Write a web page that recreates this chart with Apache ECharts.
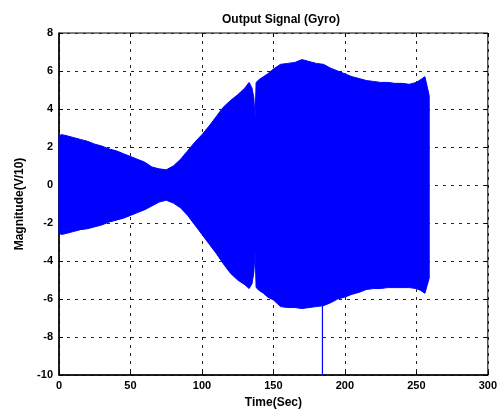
<!DOCTYPE html>
<html>
<head>
<meta charset="utf-8">
<script src="https://cdn.jsdelivr.net/npm/echarts@6/dist/echarts.min.js"></script>
<style>
  html, body { margin: 0; padding: 0; background: #fff; }
  #chartmain { width: 500px; height: 418px; }
</style>
</head>
<body>
<div id="chartmain"></div>
<script>
// envelope of the gyro output
var timeSec = [0, 2, 5, 10, 15, 20, 25, 30, 35, 40, 45, 50, 55, 60, 65, 70, 75, 80, 85, 90,
	95, 100, 105, 110, 115, 120, 125, 130, 133, 135, 136.3, 137.2, 137.9, 140, 143, 146, 150,
	155, 160, 165, 170, 175, 180, 185, 190, 195, 200, 205, 210, 215, 220, 225, 230, 235,
	240, 245, 250, 253, 256, 257.5, 259];
var upperEnv = [2.6, 2.65, 2.6, 2.5, 2.4, 2.3, 2.15, 2.05, 1.9, 1.8, 1.65, 1.5, 1.35, 1.2, 0.95, 0.85,
	0.8, 1.0, 1.35, 1.8, 2.25, 2.65, 3.1, 3.6, 4.1, 4.45, 4.75, 5.1, 5.4, 5.1, 4.6, 3.5, 5.4, 5.55,
	5.7, 5.85, 6.1, 6.35, 6.4, 6.45, 6.6, 6.5, 6.4, 6.35, 6.15, 6.0, 5.85, 5.7, 5.6, 5.5, 5.45,
	5.4, 5.4, 5.35, 5.35, 5.3, 5.4, 5.55, 5.7, 5.2, 4.7];
var lowerEnv = [-2.55, -2.6, -2.55, -2.45, -2.35, -2.3, -2.2, -2.1, -1.95, -1.85, -1.75, -1.6, -1.45,
	-1.3, -1.1, -0.9, -0.8, -0.95, -1.2, -1.6, -2.1, -2.6, -3.1, -3.6, -4.15, -4.65, -5.0, -5.25,
	-5.45, -5.2, -4.6, -3.5, -5.4, -5.55, -5.7, -5.9, -6.05, -6.4, -6.45, -6.45, -6.5, -6.45, -6.4,
	-6.35, -6.2, -6.0, -5.9, -5.75, -5.65, -5.5, -5.45, -5.45, -5.4, -5.4, -5.4, -5.4, -5.45,
	-5.55, -5.7, -5.3, -4.9];
// single glitch reaching the bottom of the axis
var spikeTime = [184.3, 184.3];
var spikeVal = [-6.3, -10];

var xTicks = [0, 50, 100, 150, 200, 250, 300];
var yTicks = [-10, -8, -6, -4, -2, 0, 2, 4, 6, 8];

var envData = [], spikeData = [];
for (var i = 0; i < timeSec.length; i++) {
	envData.push([timeSec[i], upperEnv[i], lowerEnv[i]]);
}
for (var j = 0; j < spikeTime.length; j++) {
	spikeData.push([spikeTime[j], spikeVal[j]]);
}

// whole envelope drawn as one filled polygon (upper edge out, lower edge back)
function renderEnvelope(params, api) {
	if (params.dataIndex !== 0) return;
	var pts = [];
	for (var k = 0; k < envData.length; k++) pts.push(api.coord([envData[k][0], envData[k][1]]));
	for (var m = envData.length - 1; m >= 0; m--) pts.push(api.coord([envData[m][0], envData[m][2]]));
	return {
		type: 'polygon',
		shape: { points: pts },
		style: { fill: '#0000ff', stroke: '#0000ff', lineWidth: 1 }
	};
}

var myChart = echarts.init(document.getElementById('chartmain'));
var fontFam = 'Liberation Sans, Arial';

option = {
	backgroundColor: '#fff',
	animation: false,
	title: {
		text: 'Output Signal (Gyro)',
		left: 276, top: 9, textAlign: 'center',
		textStyle: { color: '#000', fontFamily: fontFam, fontWeight: 'bold', fontSize: 12 }
	},
	grid: { left: 59, right: 7, top: 33, bottom: 43, show: true, borderColor: '#000', borderWidth: 1 },
	xAxis: [{
		type: 'value', min: xTicks[0], max: xTicks[xTicks.length - 1], interval: 50,
		name: 'Time(Sec)', nameLocation: 'middle', nameGap: 22,
		nameTextStyle: { color: '#000', fontFamily: fontFam, fontWeight: 'bold', fontSize: 12 },
		axisLine: { onZero: false, lineStyle: { color: '#000', width: 1.5 } },
		axisTick: { inside: true, length: 4, lineStyle: { color: '#000' } },
		axisLabel: { color: '#000', fontFamily: fontFam, fontWeight: 'bold', fontSize: 11, margin: 5 },
		splitLine: { show: true, lineStyle: { color: '#222', type: [3, 5], width: 1 } }
	}, {
		type: 'value', position: 'top', min: 0, max: 300, interval: 50,
		axisLine: { show: false, onZero: false },
		axisTick: { show: true, inside: true, length: 4, lineStyle: { color: '#000' } },
		axisLabel: { show: false }, splitLine: { show: false }
	}],
	yAxis: [{
		type: 'value', min: yTicks[0], max: yTicks[yTicks.length - 1], interval: 2,
		name: 'Magnitude(V/10)', nameLocation: 'middle', nameGap: 33,
		nameTextStyle: { color: '#000', fontFamily: fontFam, fontWeight: 'bold', fontSize: 12 },
		axisLine: { show: true, onZero: false, lineStyle: { color: '#000', width: 1.5 } },
		axisTick: { show: true, inside: true, length: 4, lineStyle: { color: '#000' } },
		axisLabel: { color: '#000', fontFamily: fontFam, fontWeight: 'bold', fontSize: 11, margin: 6 },
		splitLine: { show: true, lineStyle: { color: '#222', type: [3, 5], width: 1 } }
	}, {
		type: 'value', position: 'right', min: -10, max: 8, interval: 2,
		axisLine: { show: false, onZero: false },
		axisTick: { show: true, inside: true, length: 4, lineStyle: { color: '#000' } },
		axisLabel: { show: false }, splitLine: { show: false }
	}],
	series: [{
		name: 'envelope',
		type: 'custom',
		renderItem: renderEnvelope,
		data: envData,
		encode: { x: 0, y: [1, 2] },
		z: 3
	}, {
		name: 'spike',
		type: 'line',
		data: spikeData,
		symbol: 'none',
		lineStyle: { color: '#0000ff', width: 1.2 },
		z: 3
	}]
};
myChart.setOption(option);
</script>
</body>
</html>
